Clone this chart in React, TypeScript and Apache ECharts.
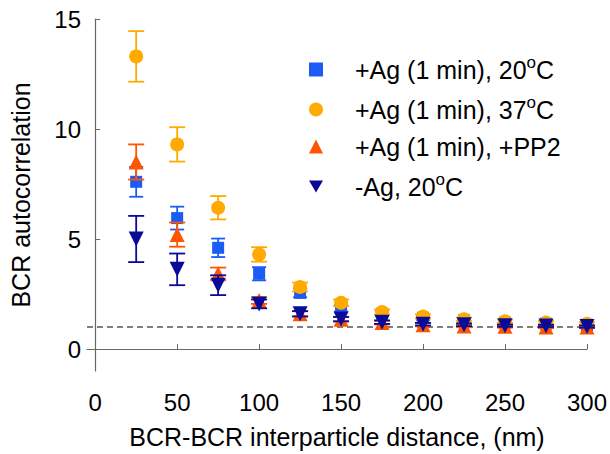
import React, { useEffect, useRef } from "react";
import * as echarts from "echarts";

const xValues = [25, 50, 75, 100, 125, 150, 175, 200, 225, 250, 275, 300];

const names = ["+Ag (1 min), 20°C", "+Ag (1 min), 37°C", "+Ag (1 min), +PP2", "-Ag, 20°C"];

const mean20 = [7.6, 5.95, 4.6, 3.42, 2.55, 1.85, 1.6, 1.42, 1.3, 1.2, 1.15, 1.1];
const err20 = [0.68, 0.52, 0.42, 0.3, 0.2, 0.15, 0.12, 0.1, 0.1, 0.08, 0.08, 0.08];

const mean37 = [13.3, 9.3, 6.42, 4.3, 2.82, 2.1, 1.68, 1.48, 1.35, 1.26, 1.2, 1.15];
const err37 = [1.15, 0.78, 0.53, 0.33, 0.2, 0.15, 0.12, 0.1, 0.08, 0.08, 0.07, 0.07];

const meanPP2 = [8.5, 5.2, 3.42, 2.2, 1.6, 1.35, 1.2, 1.1, 1.05, 1.03, 1.0, 1.0];
const errPP2 = [0.8, 0.55, 0.28, 0.15, 0.12, 0.1, 0.08, 0.07, 0.06, 0.06, 0.05, 0.05];

const meanNoAg = [5.0, 3.62, 2.9, 2.05, 1.6, 1.36, 1.22, 1.13, 1.1, 1.06, 1.05, 1.02];
const errNoAg = [1.05, 0.72, 0.45, 0.2, 0.12, 0.1, 0.08, 0.06, 0.06, 0.05, 0.05, 0.05];

const yTicks = [0, 5, 10, 15];
const xTicks = [0, 50, 100, 150, 200, 250, 300];
const baseline = 1;

const colors = ["#1a5cf5", "#ffaa00", "#ff5500", "#0a0a99"];
const symbols = ["rect", "circle", "triangle", "triangle"];
const legendIcons = ["rect", "circle", "triangle", "path://M0,0L10,0L5,8.66Z"];
const sizes = [12, 14, 15, 15];
const rotates = [0, 0, 0, 180];
const capHalf = [7, 8, 8, 8];

const means = [mean20, mean37, meanPP2, meanNoAg];
const errs = [err20, err37, errPP2, errNoAg];

const legendRich: Record<string, string> = {
  "+Ag (1 min), 20°C": "+Ag (1 min), 20{s|o}C",
  "+Ag (1 min), 37°C": "+Ag (1 min), 37{s|o}C",
  "+Ag (1 min), +PP2": "+Ag (1 min), +PP2",
  "-Ag, 20°C": "-Ag, 20{s|o}C",
};

export default function App() {
  const ref = useRef<HTMLDivElement>(null);
  useEffect(() => {
    if (!ref.current) return;
    const chart = echarts.init(ref.current, null, { renderer: "svg" });
    const font = "Liberation Sans, Arial, sans-serif";
    const series: any[] = [
      {
        type: "line",
        name: "baseline",
        data: [
          [-5, baseline],
          [300, baseline],
        ],
        symbol: "none",
        lineStyle: { color: "#000", width: 1.2, type: [6, 4] },
        z: 1,
        silent: true,
      },
    ];
    names.forEach((nm, i) => {
      const color = colors[i];
      const half = capHalf[i];
      series.push({
        type: "custom",
        name: "err" + i,
        data: xValues.map((x, j) => [x, means[i][j] - errs[i][j], means[i][j] + errs[i][j]]),
        renderItem: (params: any, api: any) => {
          const x = api.value(0);
          const lo = api.coord([x, api.value(1)]);
          const hi = api.coord([x, api.value(2)]);
          const st = { stroke: color, lineWidth: 1.8 };
          return {
            type: "group",
            children: [
              { type: "line", shape: { x1: lo[0], y1: lo[1], x2: hi[0], y2: hi[1] }, style: st },
              { type: "line", shape: { x1: lo[0] - half, y1: lo[1], x2: lo[0] + half, y2: lo[1] }, style: st },
              { type: "line", shape: { x1: hi[0] - half, y1: hi[1], x2: hi[0] + half, y2: hi[1] }, style: st },
            ],
          };
        },
        z: 2 + i * 2,
        silent: true,
      });
      series.push({
        type: "scatter",
        name: nm,
        data: xValues.map((x, j) => [x, means[i][j]]),
        symbol: symbols[i],
        symbolSize: sizes[i],
        symbolRotate: rotates[i],
        itemStyle: { color, opacity: 1 },
        z: 3 + i * 2,
      });
    });

    chart.setOption({
      animation: false,
      grid: { left: 86.5, right: 21, top: 19, bottom: 80, containLabel: false },
      legend: {
        data: names.map((n, i) => ({ name: n, icon: legendIcons[i] })),
        orient: "vertical",
        left: 304,
        top: 49,
        itemGap: 12,
        itemWidth: 14,
        itemHeight: 14,
        textStyle: {
          fontFamily: font,
          fontSize: 25,
          color: "#000",
          padding: [0, 0, 0, 27],
          rich: { s: { fontSize: 17, verticalAlign: "top", padding: [0, 0, 14, 0], fontFamily: font, color: "#000" } },
        },
        formatter: (n: string) => legendRich[n] || n,
      },
      xAxis: {
        type: "value",
        min: -5,
        max: 300,
        name: "BCR-BCR interparticle distance, (nm)",
        nameLocation: "middle",
        nameGap: 53,
        nameTextStyle: { fontFamily: font, fontSize: 25, color: "#000" },
        axisLine: { show: true, lineStyle: { color: "#666", width: 1.2 } },
        axisTick: { show: true, inside: true, length: 5, customValues: xTicks, lineStyle: { color: "#666" } },
        axisLabel: { customValues: xTicks, fontFamily: font, fontSize: 24, color: "#000", margin: 19 },
        splitLine: { show: false },
      },
      yAxis: {
        type: "value",
        min: -1,
        max: 15,
        name: "BCR autocorrelation",
        nameLocation: "middle",
        nameGap: 54,
        nameRotate: 90,
        nameTextStyle: { fontFamily: font, fontSize: 25, color: "#000" },
        axisLine: { show: true, lineStyle: { color: "#666", width: 1.2 } },
        axisTick: { show: true, inside: true, length: 5, customValues: yTicks, lineStyle: { color: "#666" } },
        axisLabel: { customValues: yTicks, fontFamily: font, fontSize: 24, color: "#000", margin: 6 },
        splitLine: { show: false },
      },
      series,
    });
    return () => chart.dispose();
  }, []);
  return <div ref={ref} style={{ width: 610, height: 454, position: "absolute", left: 0, top: 0 }} />;
}
